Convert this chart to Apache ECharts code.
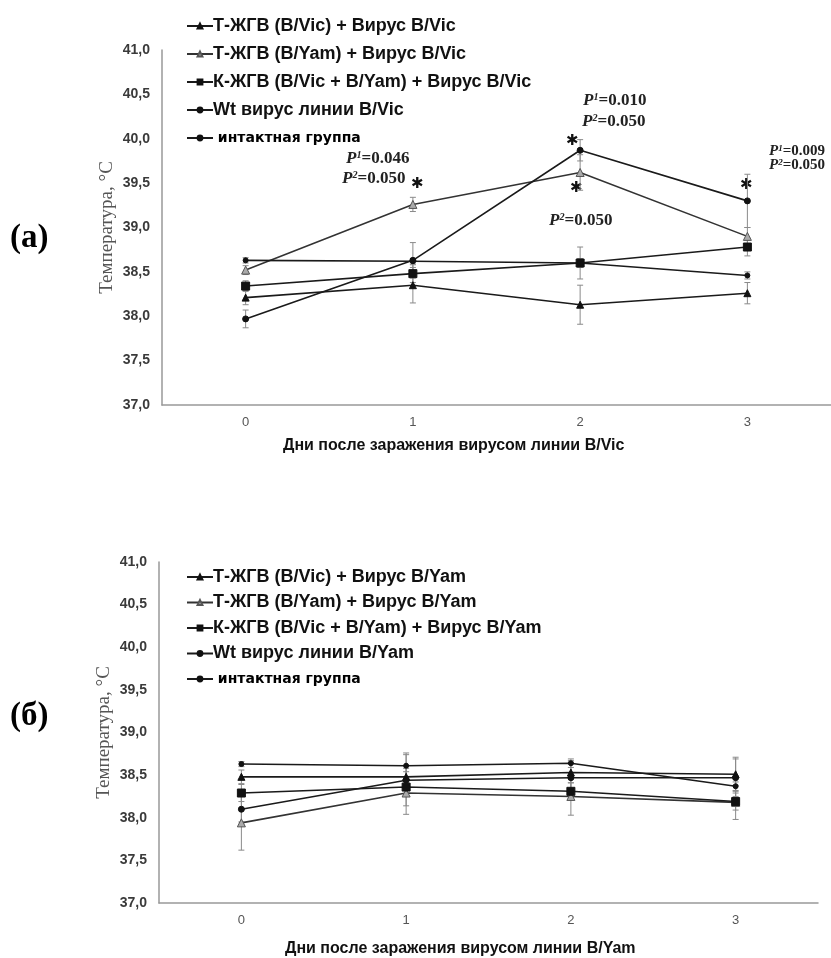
<!DOCTYPE html>
<html>
<head>
<meta charset="utf-8">
<script src="https://cdn.jsdelivr.net/npm/echarts@6/dist/echarts.min.js"></script>
<style>
  html, body { margin: 0; padding: 0; background: #fff; }
  #chart { width: 831px; height: 958px; }
</style>
</head>
<body>
<div id="chart"></div>
<script>
// days after infection
const days = ['0', '1', '2', '3']
const yTicks = [37, 41, 0.5] // min, max, step

// (а) virus B/Vic
const namesA = [
  'Т-ЖГВ (B/Vic) + Вирус B/Vic',
  'Т-ЖГВ (B/Yam) + Вирус B/Vic',
  'К-ЖГВ (B/Vic + B/Yam) + Вирус B/Vic',
  'Wt вирус линии B/Vic',
  'интактная группа'
]
const tVicA = [38.21, 38.35, 38.13, 38.26]
const tYamA = [38.52, 39.26, 39.62, 38.90]
const kA = [38.34, 38.48, 38.60, 38.78]
const wtA = [37.97, 38.63, 39.87, 39.30]
const intactA = [38.63, 38.62, 38.60, 38.46]
const tVicErrA = [0.08, 0.20, 0.22, 0.12]
const tYamErrA = [0.05, 0.08, 0.20, 0.10]
const kErrA = [0.06, 0.10, 0.18, 0.10]
const wtErrA = [0.10, 0.20, 0.12, 0.30]
const intactErrA = [0.03, 0.03, 0.05, 0.04]

// (б) virus B/Yam
const namesB = [
  'Т-ЖГВ (B/Vic) + Вирус B/Yam',
  'Т-ЖГВ (B/Yam) + Вирус B/Yam',
  'К-ЖГВ (B/Vic + B/Yam) + Вирус B/Yam',
  'Wt вирус линии B/Yam',
  'интактная группа'
]
const tVicB = [38.48, 38.48, 38.53, 38.51]
const tYamB = [37.94, 38.29, 38.25, 38.18]
const kB = [38.29, 38.36, 38.31, 38.19]
const wtB = [38.10, 38.44, 38.47, 38.47]
const intactB = [38.63, 38.61, 38.64, 38.37]
const tVicErrB = [0.08, 0.10, 0.12, 0.20]
const tYamErrB = [0.32, 0.25, 0.22, 0.20]
const kErrB = [0.10, 0.10, 0.10, 0.10]
const wtErrB = [0.15, 0.30, 0.20, 0.22]
const intactErrB = [0.03, 0.15, 0.05, 0.05]

const markers = [
  { symbol: 'triangle', size: 7, color: '#111' },
  { symbol: 'triangle', size: 8, color: '#aaa' },
  { symbol: 'rect', size: 8, color: '#111' },
  { symbol: 'circle', size: 6, color: '#111' },
  { symbol: 'circle', size: 5, color: '#111' }
]

function lineSeries(names, values, gridIdx) {
  return values.map((v, i) => ({
    name: names[i],
    type: 'line',
    xAxisIndex: gridIdx,
    yAxisIndex: gridIdx,
    data: v,
    symbol: markers[i].symbol,
    symbolSize: markers[i].size,
    itemStyle: { color: markers[i].color, borderColor: i === 1 ? '#555' : markers[i].color, borderWidth: 1 },
    lineStyle: { color: i === 1 ? '#333' : '#1a1a1a', width: 1.6 },
    z: 3
  }))
}

function errSeries(values, errs, gridIdx) {
  const data = []
  values.forEach((v, s) => {
    v.forEach((y, d) => data.push([d, y, errs[s][d]]))
  })
  return {
    type: 'custom',
    xAxisIndex: gridIdx,
    yAxisIndex: gridIdx,
    data: data,
    z: 2,
    silent: true,
    renderItem(params, api) {
      const d = api.value(0)
      const top = api.coord([d, api.value(1) + api.value(2)])
      const bot = api.coord([d, api.value(1) - api.value(2)])
      const st = { stroke: '#8a8a8a', lineWidth: 1 }
      return {
        type: 'group',
        children: [
          { type: 'line', shape: { x1: top[0], y1: top[1], x2: bot[0], y2: bot[1] }, style: st },
          { type: 'line', shape: { x1: top[0] - 3, y1: top[1], x2: top[0] + 3, y2: top[1] }, style: st },
          { type: 'line', shape: { x1: bot[0] - 3, y1: bot[1], x2: bot[0] + 3, y2: bot[1] }, style: st }
        ]
      }
    }
  }
}

function xAxis(gridIdx) {
  return {
    type: 'category',
    gridIndex: gridIdx,
    data: days,
    boundaryGap: true,
    axisLine: { lineStyle: { color: '#999', width: 1.5 } },
    axisTick: { show: false },
    axisLabel: { margin: 11, fontSize: 13, color: '#555', fontFamily: 'Liberation Sans' }
  }
}

function yAxis(gridIdx) {
  return {
    type: 'value',
    gridIndex: gridIdx,
    min: yTicks[0],
    max: yTicks[1],
    interval: yTicks[2],
    splitLine: { show: false },
    axisTick: { show: false },
    axisLine: { show: true, lineStyle: { color: '#999', width: 1.5 } },
    axisLabel: {
      margin: 12, fontSize: 14, fontWeight: 'bold', color: '#3a3a3a', fontFamily: 'Liberation Sans',
      formatter: v => v.toFixed(1).replace('.', ',')
    },
    name: 'Температура, °C',
    nameLocation: 'middle',
    nameRotate: 90,
    nameGap: 45,
    nameMoveOverlap: false,
    nameTextStyle: { fontFamily: 'Liberation Serif', fontSize: 19, color: '#555' }
  }
}

function legend(names, top, gap) {
  return {
    data: names,
    orient: 'vertical',
    left: 181,
    top: top,
    itemWidth: 26,
    itemHeight: 6,
    itemGap: gap,
    formatter: n => n === 'интактная группа' ? '{b| ' + n + '}' : n,
    textStyle: {
      fontFamily: 'Liberation Sans', fontSize: 18, fontWeight: 'bold', color: '#111', lineHeight: 18, padding: [0, 0, 0, -5],
      rich: { b: { fontFamily: 'DejaVu Sans', fontWeight: 'bold', fontSize: 14, color: '#000' } }
    }
  }
}

const serifBold = { fontFamily: 'Liberation Serif', fontWeight: 'bold', fill: '#222' }
function pText(x, y, sup, val, size) {
  return {
    type: 'text', left: x, top: y,
    style: {
      text: '{p|P}{s|' + sup + '}{v|=' + val + '}',
      rich: {
        p: Object.assign({ fontSize: size, fontStyle: 'italic' }, serifBold),
        s: Object.assign({ fontSize: size * 0.6, fontStyle: 'italic', verticalAlign: 'top', padding: [0, 0, 6, 0] }, serifBold),
        v: Object.assign({ fontSize: size }, serifBold)
      }
    }
  }
}
function star(x, y) {
  return { type: 'text', left: x, top: y, style: { text: '✱', fontFamily: 'DejaVu Sans', fontSize: 15, fill: '#111' } }
}
function plain(x, y, text, style) {
  return { type: 'text', left: x, top: y, style: Object.assign({ text: text }, style) }
}

const chart = echarts.init(document.getElementById('chart'))
chart.setOption({
  backgroundColor: '#fff',
  animation: false,
  grid: [
    { left: 162, top: 50, width: 684, height: 355 },
    { left: 159, top: 562, width: 659, height: 341 }
  ],
  xAxis: [xAxis(0), xAxis(1)],
  yAxis: [yAxis(0), yAxis(1)],
  legend: [legend(namesA, 12, 10), legend(namesB, 563, 7.5)],
  series: [
    errSeries([tVicA, tYamA, kA, wtA, intactA], [tVicErrA, tYamErrA, kErrA, wtErrA, intactErrA], 0),
    errSeries([tVicB, tYamB, kB, wtB, intactB], [tVicErrB, tYamErrB, kErrB, wtErrB, intactErrB], 1)
  ].concat(
    lineSeries(namesA, [tVicA, tYamA, kA, wtA, intactA], 0),
    lineSeries(namesB, [tVicB, tYamB, kB, wtB, intactB], 1)
  ),
  graphic: [
    plain(10, 222, '(а)', { fontFamily: 'Liberation Serif', fontWeight: 'bold', fontSize: 33, fill: '#000' }),
    plain(10, 700, '(б)', { fontFamily: 'Liberation Serif', fontWeight: 'bold', fontSize: 33, fill: '#000' }),
    plain(283, 438, 'Дни после заражения вирусом линии B/Vic', { fontFamily: 'Liberation Sans', fontWeight: 'bold', fontSize: 16, fill: '#111' }),
    plain(285, 941, 'Дни после заражения вирусом линии B/Yam', { fontFamily: 'Liberation Sans', fontWeight: 'bold', fontSize: 16, fill: '#111' }),
    pText(346, 150, '1', '0.046', 17),
    pText(342, 170, '2', '0.050', 17),
    star(411, 177),
    pText(583, 92, '1', '0.010', 17),
    pText(582, 113, '2', '0.050', 17),
    star(566, 134),
    star(570, 181),
    pText(549, 212, '2', '0.050', 17),
    star(740, 178),
    pText(769, 144, '1', '0.009', 15),
    pText(769, 158, '2', '0.050', 15)
  ]
})
</script>
</body>
</html>
